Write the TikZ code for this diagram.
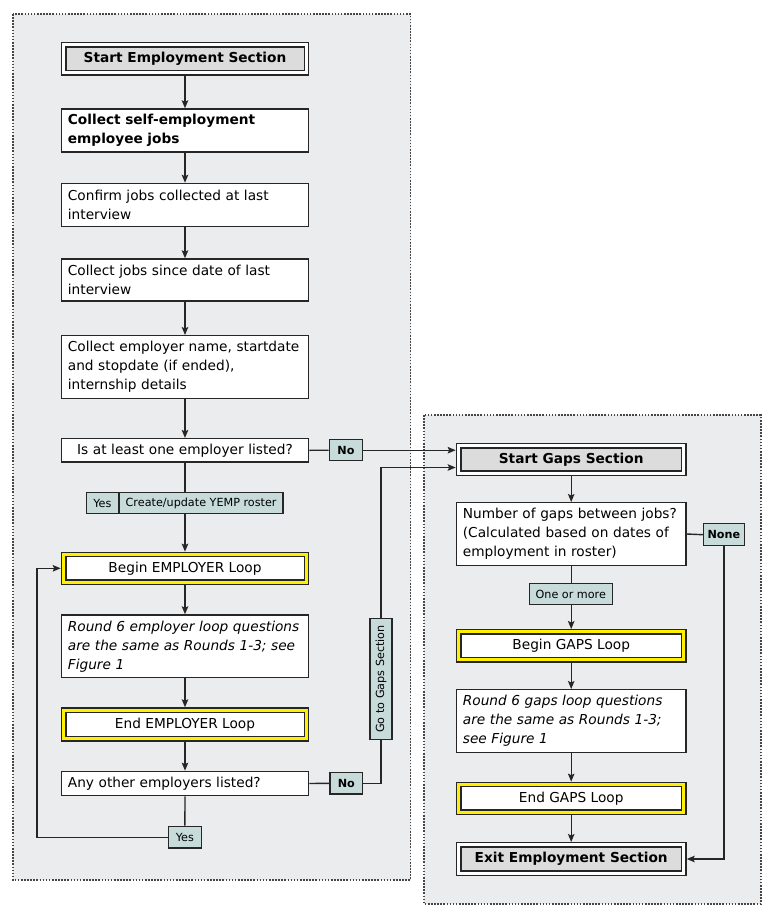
\documentclass[tikz,border=0pt]{standalone}
\usepackage{fontspec}
\setmainfont{DejaVu Sans}
\usetikzlibrary{arrows.meta}

\definecolor{linec}{RGB}{38,38,38}
\definecolor{panelc}{RGB}{235,236,238}
\definecolor{dotc}{RGB}{70,70,70}
\definecolor{tagc}{RGB}{199,219,219}
\definecolor{startc}{RGB}{220,220,220}
\definecolor{loopc}{RGB}{255,240,0}

\newcommand\boxfont{\fontsize{13.7}{19}\selectfont}
\newcommand\tagfont{\fontsize{11.2}{13}\selectfont}

\tikzset{
  box/.style={draw=linec, line width=1.4pt, fill=white, inner xsep=6.5pt, inner ysep=2pt, outer sep=0.7pt, align=left, font=\boxfont},
  lbox/.style={box, minimum width=247.2pt, text width=234.2pt},
  rbox/.style={box, minimum width=229.6pt, text width=216.6pt},
  startbox/.style={draw=linec, line width=1.4pt, double=white, double distance=3pt, fill=startc, inner sep=1pt, outer sep=2.9pt, align=center, font=\boxfont\bfseries},
  loopbox/.style={draw=linec, line width=1.4pt, double=loopc, double distance=3pt, fill=white, inner sep=1pt, outer sep=2.9pt, align=center, font=\boxfont},
  tag/.style={draw=linec, line width=1.4pt, fill=tagc, inner sep=1pt, outer sep=0.7pt, align=center, font=\tagfont},
  line/.style={draw=linec, line width=1.4pt},
  arr/.style={line, -{Stealth[length=8pt,width=6.5pt,inset=1.5pt]}},
  panel/.style={draw=dotc, fill=panelc, line width=1.6pt, dash pattern=on 1.6pt off 1.5pt}
}

\begin{document}
\begin{tikzpicture}[x=1pt,y=-1pt]
\useasboundingbox[fill=white] (0,0) rectangle (774,922);
\path[panel] (12.7,14) rectangle (410.5,880);
\path[panel] (424,415) rectangle (760.7,904);

% employment section
\node[startbox, minimum width=242.8pt, minimum height=28.2pt] (startemp) at (185,58.7) {Start Employment Section};
\node[lbox, minimum height=43pt] (collself) at (185,130.5) {\bfseries Collect self-employment\\employee jobs};
\node[lbox, minimum height=42.9pt] (confirm) at (185,204.9) {Confirm jobs collected at last\\interview};
\node[lbox, minimum height=42pt] (since) at (185,280) {Collect jobs since date of last\\interview};
\node[lbox, minimum height=62.6pt] (collemp) at (185,367) {Collect employer name, startdate\\and stopdate (if ended),\\internship details};
\node[lbox, minimum height=23.3pt, align=center] (atleast) at (185,450.3) {Is at least one employer listed?};
\node[tag, minimum width=31.9pt, minimum height=21.2pt] (yes1) at (102.3,503) {Yes};
\node[tag, minimum width=163.9pt, minimum height=21.2pt] (roster) at (201.1,503) {Create/update YEMP roster};
\node[tag, minimum width=33.2pt, minimum height=20.9pt, font=\tagfont\bfseries] (no1) at (346,450.2) {No};
\node[loopbox, minimum width=242.8pt, minimum height=27.5pt] (beginemp) at (185,568.3) {Begin EMPLOYER Loop};
\node[lbox, minimum height=62.6pt] (roundemp) at (185,646.3) {\itshape Round 6 employer loop questions\\\itshape are the same as Rounds 1-3; see\\\itshape Figure 1};
\node[loopbox, minimum width=242.8pt, minimum height=28.6pt] (endemp) at (185,724.5) {End EMPLOYER Loop};
\node[lbox, minimum height=24.2pt] (anyother) at (185,783.5) {Any other employers listed?};
\node[tag, minimum width=32.6pt, minimum height=21.6pt, font=\tagfont\bfseries] (no2) at (346.3,783.3) {No};
\node[tag, minimum width=32.9pt, minimum height=21.6pt] (yes2) at (184.9,837.2) {Yes};
\node[tag, rotate=90, minimum width=120.6pt, minimum height=22pt] (goto) at (381,679) {Go to Gaps Section};

% gaps section
\node[startbox, minimum width=225.2pt, minimum height=27.2pt] (startgaps) at (571.2,459.5) {Start Gaps Section};
\node[rbox, minimum height=62.6pt] (numgaps) at (571.2,534) {Number of gaps between jobs?\\(Calculated based on dates of\\employment in roster)};
\node[tag, minimum width=40.9pt, minimum height=22.1pt, font=\tagfont\bfseries] (none) at (723.9,534.7) {None};
\node[tag, minimum width=82.9pt, minimum height=20.6pt] (oneormore) at (570.8,594) {One or more};
\node[loopbox, minimum width=225.2pt, minimum height=27.9pt] (begingaps) at (571.2,645.9) {Begin GAPS Loop};
\node[rbox, minimum height=62.6pt] (roundgaps) at (571.2,721) {\itshape Round 6 gaps loop questions\\\itshape are the same as Rounds 1-3;\\\itshape see Figure 1};
\node[loopbox, minimum width=225.2pt, minimum height=27.5pt] (endgaps) at (571.2,798.3) {End GAPS Loop};
\node[startbox, minimum width=225.2pt, minimum height=28.2pt] (exit) at (571.2,859) {Exit Employment Section};

\draw[arr] (startemp) -- (collself);
\draw[arr] (collself) -- (confirm);
\draw[arr] (confirm) -- (since);
\draw[arr] (since) -- (collemp);
\draw[arr] (collemp) -- (atleast);
\draw[line] (atleast.south) -- (atleast.south |- roster.north);
\draw[arr] (roster.south -| beginemp.north) -- (beginemp.north);
\draw[line] (atleast.east) -- (no1.west);
\draw[arr] (no1.east) -- (no1.east -| startgaps.west);
\draw[arr] (beginemp) -- (roundemp);
\draw[arr] (roundemp) -- (endemp);
\draw[arr] (endemp) -- (anyother);
\draw[line] (anyother.south) -- (yes2.north);
\draw[arr] (yes2.west) -| (37,568.3) -- (beginemp.west);
\draw[line] (anyother.east) -- (no2.west);
\draw[line] (no2.east) -| (goto.west);
\draw[arr] (goto.east) |- ([yshift=-8pt]startgaps.west);

\draw[arr] (startgaps) -- (numgaps);
\draw[line] (numgaps.south) -- (numgaps.south |- oneormore.north);
\draw[arr] (oneormore.south -| begingaps.north) -- (begingaps.north);
\draw[line] (numgaps.east) -- (none.west);
\draw[arr] (none.south) |- (exit.east);
\draw[arr] (begingaps) -- (roundgaps);
\draw[arr] (roundgaps) -- (endgaps);
\draw[arr] (endgaps) -- (exit);
\end{tikzpicture}
\end{document}
